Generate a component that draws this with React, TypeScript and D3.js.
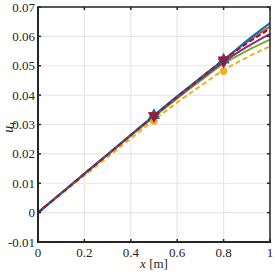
import { useEffect, useRef } from 'react'
import * as d3 from 'd3'

// sample positions along the bar [m]
const xs = [0, 0.1, 0.2, 0.3, 0.4, 0.5, 0.6, 0.7, 0.8, 0.9, 1.0]

// u1 for each model / case
const blue = [0, 0.0066, 0.0132, 0.0198, 0.0264, 0.0331, 0.0396, 0.0458, 0.0519, 0.0585, 0.0645]
const orange = [0, 0.0066, 0.0132, 0.0198, 0.0264, 0.033, 0.0395, 0.0458, 0.0521, 0.058, 0.0633]
const redDash = [0, 0.0066, 0.0132, 0.0198, 0.0264, 0.033, 0.0394, 0.0457, 0.052, 0.0576, 0.0626]
const purple = [0, 0.0066, 0.0132, 0.0198, 0.0264, 0.0329, 0.0392, 0.0454, 0.0513, 0.0564, 0.0609]
const green = [0, 0.0066, 0.0132, 0.0197, 0.0262, 0.0326, 0.0389, 0.0449, 0.0507, 0.0551, 0.0589]
const yellowDash = [0, 0.0063, 0.0126, 0.0189, 0.0252, 0.0315, 0.0375, 0.0431, 0.0485, 0.0528, 0.0566]

// marker positions
const markX = [0.5, 0.8]

const xTicks = [0, 0.2, 0.4, 0.6, 0.8, 1]
const yTicks = [-0.01, 0, 0.01, 0.02, 0.03, 0.04, 0.05, 0.06, 0.07]

type Series = { ys: number[]; color: string; dash?: string; marker?: 'tri' | 'trid' | 'circ' }

const series: Series[] = [
  { ys: yellowDash, color: '#EDB120', dash: '5 3', marker: 'circ' },
  { ys: green, color: '#77AC30' },
  { ys: purple, color: '#7E2F8E', marker: 'trid' },
  { ys: orange, color: '#D95319', marker: 'tri' },
  { ys: blue, color: '#0072BD', marker: 'tri' },
  { ys: redDash, color: '#A2142F', dash: '5 3', marker: 'trid' },
]

export default function App() {
  const ref = useRef<SVGSVGElement | null>(null)

  useEffect(() => {
    const width = 275
    const height = 275
    const margin = { top: 7, right: 5, bottom: 33, left: 38 }
    const svg = d3.select(ref.current)
    svg.selectAll('*').remove()
    svg.attr('width', width).attr('height', height)

    const x = d3.scaleLinear().domain([0, 1]).range([margin.left, width - margin.right])
    const y = d3.scaleLinear().domain([-0.01, 0.07]).range([height - margin.bottom, margin.top])
    const font = '"Liberation Serif", serif'
    const fs = 13

    svg.append('rect')
      .attr('x', x(0)).attr('y', y(0.07))
      .attr('width', x(1) - x(0)).attr('height', y(-0.01) - y(0.07))
      .attr('fill', '#fff')

    // grid
    const grid = svg.append('g').attr('stroke', '#e6e6e6').attr('stroke-width', 1.2)
    xTicks.forEach((t) => {
      grid.append('line').attr('x1', x(t)).attr('x2', x(t)).attr('y1', y(-0.01)).attr('y2', y(0.07))
    })
    yTicks.forEach((t) => {
      grid.append('line').attr('x1', x(0)).attr('x2', x(1)).attr('y1', y(t)).attr('y2', y(t))
    })

    const line = d3.line<number>()
      .x((_d, i) => x(xs[i]))
      .y((d) => y(d))
      .curve(d3.curveMonotoneX)

    const plot = svg.append('g')
    series.forEach((s) => {
      plot.append('path')
        .datum(s.ys)
        .attr('fill', 'none')
        .attr('stroke', s.color)
        .attr('stroke-width', 2)
        .attr('stroke-dasharray', s.dash ?? null)
        .attr('d', line)
    })

    const valueAt = (ys: number[], xv: number) => {
      const i = xs.findIndex((v) => Math.abs(v - xv) < 1e-9)
      return ys[i]
    }
    series.forEach((s) => {
      if (!s.marker) return
      markX.forEach((mx) => {
        const cx = x(mx)
        const cy = y(valueAt(s.ys, mx))
        if (s.marker === 'circ') {
          plot.append('circle').attr('cx', cx).attr('cy', cy + 1).attr('r', 3.4)
            .attr('fill', s.color).attr('stroke', s.color)
        } else {
          const sym = d3.symbol().type(d3.symbolTriangle).size(40)
          plot.append('path')
            .attr('d', sym() as string)
            .attr('transform', `translate(${cx},${cy})${s.marker === 'trid' ? ' rotate(180)' : ''}`)
            .attr('fill', s.color).attr('fill-opacity', 0.85)
            .attr('stroke', s.color).attr('stroke-width', 1.3)
        }
      })
    })

    // box
    const box = svg.append('g').attr('stroke', '#262626').attr('fill', 'none')
    box.append('rect')
      .attr('x', x(0)).attr('y', y(0.07))
      .attr('width', x(1) - x(0)).attr('height', y(-0.01) - y(0.07))
      .attr('stroke-width', 1.5)
    box.append('line').attr('x1', x(0)).attr('x2', x(0)).attr('y1', y(-0.01) + 1).attr('y2', y(0.07)).attr('stroke-width', 2)
    box.append('line').attr('x1', x(0) - 1).attr('x2', x(1) + 1).attr('y1', y(-0.01)).attr('y2', y(-0.01)).attr('stroke-width', 2)

    // inward ticks on all four sides
    const tl = 3
    xTicks.forEach((t) => {
      box.append('line').attr('x1', x(t)).attr('x2', x(t)).attr('y1', y(-0.01)).attr('y2', y(-0.01) - tl).attr('stroke-width', 1.5)
      box.append('line').attr('x1', x(t)).attr('x2', x(t)).attr('y1', y(0.07)).attr('y2', y(0.07) + tl).attr('stroke-width', 1.5)
    })
    yTicks.forEach((t) => {
      box.append('line').attr('x1', x(0)).attr('x2', x(0) + tl).attr('y1', y(t)).attr('y2', y(t)).attr('stroke-width', 1.5)
      box.append('line').attr('x1', x(1)).attr('x2', x(1) - tl).attr('y1', y(t)).attr('y2', y(t)).attr('stroke-width', 1.5)
    })

    // tick labels
    svg.append('g').selectAll('text').data(xTicks).enter().append('text')
      .attr('x', (d) => x(d)).attr('y', y(-0.01) + 15)
      .attr('text-anchor', 'middle')
      .attr('font-family', font).attr('font-size', fs).attr('fill', '#262626')
      .text((d) => String(d))
    svg.append('g').selectAll('text').data(yTicks).enter().append('text')
      .attr('x', x(0) - 3).attr('y', (d) => y(d) + 4.5)
      .attr('text-anchor', 'end')
      .attr('font-family', font).attr('font-size', fs).attr('fill', '#262626')
      .text((d) => String(d))

    // axis labels
    const xl = svg.append('text')
      .attr('x', (x(0) + x(1)) / 2).attr('y', 268)
      .attr('text-anchor', 'middle')
      .attr('font-family', font).attr('font-size', fs).attr('fill', '#262626')
    xl.append('tspan').attr('font-style', 'italic').text('x')
    xl.append('tspan').text(' [m]')

    const yl = svg.append('text')
      .attr('transform', `translate(13,127) rotate(-90)`)
      .attr('text-anchor', 'middle')
      .attr('font-family', font).attr('font-size', fs + 1).attr('fill', '#262626')
    yl.append('tspan').attr('font-style', 'italic').text('u')
    yl.append('tspan').attr('font-size', 9).attr('dy', 3).text('1')
  }, [])

  return <svg ref={ref} style={{ position: 'absolute', left: 0, top: 0 }} />
}
